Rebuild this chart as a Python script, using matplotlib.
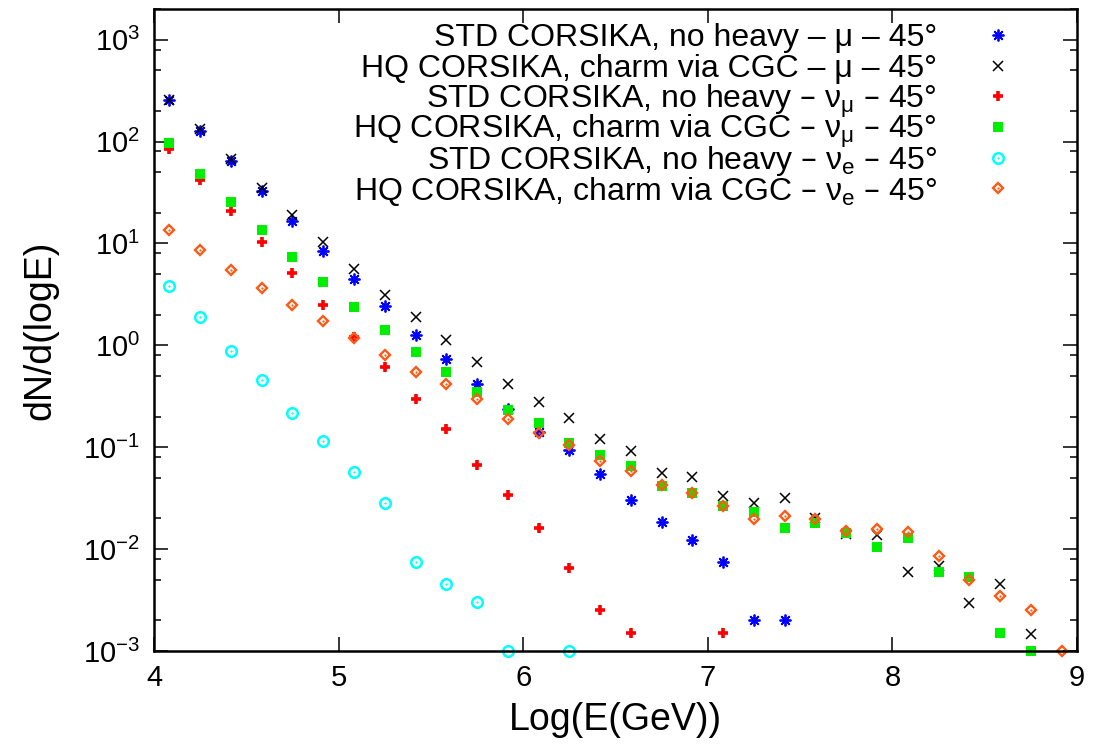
import numpy as np
import matplotlib
matplotlib.use('Agg')
import matplotlib.pyplot as plt
from matplotlib.ticker import LogLocator, NullFormatter, LogFormatterMathtext

nan = np.nan

log_e = [4.083, 4.25, 4.417, 4.583, 4.75, 4.917, 5.083, 5.25, 5.417, 5.583,
         5.75, 5.917, 6.083, 6.25, 6.417, 6.583, 6.75, 6.917, 7.083, 7.25,
         7.417, 7.583, 7.75, 7.917, 8.083, 8.25, 8.417, 8.583, 8.75, 8.917]

std_mu = [256, 127, 64, 32.6, 16.5, 8.5, 4.49, 2.41, 1.26, 0.73,
          0.42, 0.237, 0.141, 0.0946, 0.0542, 0.0305, 0.0185, 0.0124, 0.0075, 0.002,
          0.002, nan, nan, nan, nan, nan, nan, nan, nan, nan]

hq_mu = [258, 134, 68, 35.2, 19.2, 10.3, 5.63, 3.14, 1.88, 1.13,
         0.685, 0.413, 0.281, 0.194, 0.120, 0.092, 0.0562, 0.0514, 0.0332, 0.0281,
         0.0316, 0.0200, 0.0140, 0.0139, 0.00598, 0.0068, 0.00299, 0.0045, 0.00148, nan]

std_numu = [83.8, 41.5, 20.6, 10.3, 5.14, 2.51, 1.21, 0.612, 0.299, 0.151,
            0.067, 0.0337, 0.016, 0.00655, 0.0025, 0.0015, nan, nan, 0.0015, nan,
            nan, nan, nan, nan, nan, nan, nan, nan, nan, nan]

hq_numu = [96, 48.3, 25.4, 13.7, 7.31, 4.19, 2.36, 1.40, 0.865, 0.549,
           0.350, 0.233, 0.172, 0.111, 0.084, 0.0655, 0.0419, 0.0353, 0.0267, 0.0233,
           0.0162, 0.0181, 0.0145, 0.0105, 0.0130, 0.00598, 0.00535, 0.0015, 0.001, nan]

std_nue = [3.79, 1.88, 0.871, 0.452, 0.216, 0.115, 0.0571, 0.0285, 0.0075, 0.0045,
           0.003, 0.001, nan, 0.001, nan, nan, nan, nan, nan, nan,
           nan, nan, nan, nan, nan, nan, nan, nan, nan, nan]

hq_nue = [13.4, 8.57, 5.53, 3.68, 2.49, 1.75, 1.17, 0.80, 0.553, 0.417,
          0.296, 0.188, 0.139, 0.105, 0.073, 0.0585, 0.0426, 0.0353, 0.0265, 0.0196,
          0.0211, 0.0196, 0.0151, 0.0156, 0.0146, 0.00853, 0.00495, 0.00348, 0.00251, 0.001]

labels = [
    'STD CORSIKA, no heavy \u2013 \u03bc \u2013 45\u00b0',
    'HQ CORSIKA, charm via CGC \u2013 \u03bc \u2013 45\u00b0',
    'STD CORSIKA, no heavy \u2013 $\\nu_\\mu$ \u2013 45\u00b0',
    'HQ CORSIKA, charm via CGC \u2013 $\\nu_\\mu$ \u2013 45\u00b0',
    'STD CORSIKA, no heavy \u2013 $\\nu_e$ \u2013 45\u00b0',
    'HQ CORSIKA, charm via CGC \u2013 $\\nu_e$ \u2013 45\u00b0',
]

plt.rcParams['font.family'] = ['Liberation Sans', 'DejaVu Sans']
plt.rcParams['mathtext.default'] = 'regular'

styles = [
    dict(marker=(8, 2, 0), color='#0000ff', ms=8.5, mew=1.3, mfc='none'),
    dict(marker='x', color='black', ms=7.5, mew=1.1),
    dict(marker='+', color='#ff0000', ms=7.5, mew=2.6),
    dict(marker='s', color='#00ee00', ms=7.2, mew=0),
    dict(marker='o', color='#00ffff', ms=7.6, mew=1.8, mfc='none'),
    dict(marker='D', color='#ff5a14', ms=5.6, mew=1.7, mfc='none'),
]
dotted = [False, False, False, False, True, True]
series = [std_mu, hq_mu, std_numu, hq_numu, std_nue, hq_nue]

fig = plt.figure(figsize=(10.94, 7.53), dpi=100)
ax = fig.add_axes([154 / 1094, 1 - 651 / 753, 923 / 1094, 642 / 753])

for ys, st, dot in zip(series, styles, dotted):
    ax.plot(log_e, ys, linestyle='none', clip_on=False, **st)
    if dot:
        ax.plot(log_e, ys, linestyle='none', marker='o', ms=1.6, mew=0,
                color=st['color'], clip_on=False)

ax.set_xlim(4, 9)
ax.set_yscale('log')
ax.set_ylim(1e-3, 2000)
ax.set_xticks([4, 5, 6, 7, 8, 9])
ax.yaxis.set_major_locator(LogLocator(base=10, numticks=20))
ax.yaxis.set_major_formatter(LogFormatterMathtext())
ax.yaxis.set_minor_locator(LogLocator(base=10, subs=[2, 5, 8], numticks=20))
ax.yaxis.set_minor_formatter(NullFormatter())
ax.tick_params(which='both', direction='in', top=True, right=True, width=1.1)
ax.tick_params(which='major', length=10, labelsize=21)
ax.tick_params(axis='x', which='major', pad=9)
ax.tick_params(axis='y', which='major', pad=10)
ax.tick_params(which='minor', length=5)
for s in ax.spines.values():
    s.set_linewidth(1.8)

ax.set_xlabel('Log(E(GeV))', fontsize=27)
ax.set_ylabel('dN/d(logE)', fontsize=27)
ax.xaxis.label.set_va('center')
ax.yaxis.label.set_va('center')
ax.xaxis.set_label_coords(0.5, -0.108)
ax.yaxis.set_label_coords(-0.123, 0.5)

# key (gnuplot style: right-aligned text, sample marker on the right)
key_x_text = 0.8483
key_x_mark = 0.9144
key_y0 = 0.9595
key_dy = 0.0478
for i, (lab, st, dot) in enumerate(zip(labels, styles, dotted)):
    yk = key_y0 - i * key_dy
    ax.text(key_x_text, yk - 0.0175, lab, transform=ax.transAxes, ha='right',
            va='baseline', fontsize=23)
    ax.plot([key_x_mark], [yk], transform=ax.transAxes, linestyle='none',
            clip_on=False, **st)
    if dot:
        ax.plot([key_x_mark], [yk], transform=ax.transAxes, linestyle='none',
                marker='o', ms=1.6, mew=0, color=st['color'], clip_on=False)

fig.savefig('out.png', dpi=100)
